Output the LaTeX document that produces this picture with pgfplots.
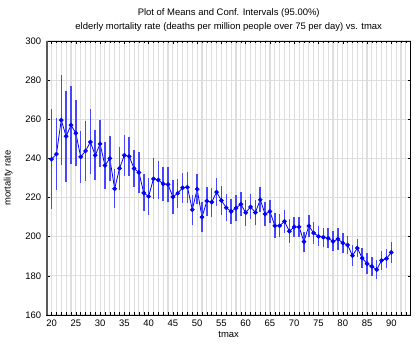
\documentclass[border=0pt]{standalone}
\usepackage{fontspec}
\setmainfont{Liberation Sans}
\usepackage{pgfplots}
\pgfplotsset{compat=1.18}
\usepackage{pgfplotstable}
\pgfplotstableread{
x y err
20 239.6 25.5
21 242.2 18.5
22 259.6 23.0
23 251.3 23.4
24 257.0 20.0
25 252.9 17.0
26 240.8 13.4
27 243.8 15.5
28 248.4 16.6
29 241.6 12.7
30 247.4 12.0
31 236.4 12.2
32 240.0 11.7
33 224.5 10.0
34 234.9 11.0
35 241.6 10.6
36 241.0 10.2
37 234.9 9.4
38 232.8 10.3
39 222.4 9.5
40 220.6 9.4
41 229.6 10.5
42 229.0 9.8
43 227.0 8.7
44 226.7 9.0
45 220.3 8.9
46 222.2 7.4
47 225.0 7.7
48 225.3 8.0
49 213.8 7.6
50 224.3 7.6
51 210.0 7.7
52 218.2 7.4
53 217.7 7.4
54 222.8 7.1
55 218.5 7.3
56 214.8 7.0
57 212.9 6.4
58 214.6 6.6
59 216.6 6.1
60 212.3 6.6
61 215.2 6.4
62 212.4 6.4
63 218.9 6.5
64 211.6 6.3
65 212.9 6.0
66 205.6 6.4
67 205.6 6.0
68 207.8 5.8
69 202.8 6.1
70 205.0 5.3
71 205.0 5.2
72 197.5 5.1
73 205.5 5.4
74 201.9 5.5
75 200.2 5.2
76 199.7 5.0
77 199.2 5.0
78 197.6 5.1
79 198.8 5.4
80 196.8 5.0
81 195.8 4.5
82 190.3 5.5
83 194.2 4.8
84 189.1 5.0
85 186.2 5.5
86 184.8 5.0
87 183.2 5.0
88 187.9 5.0
89 188.8 5.0
90 192.0 5.2
}\datatable
\definecolor{gridgray}{RGB}{222,222,222}
\definecolor{barblue}{RGB}{70,70,255}
\begin{document}
\begin{tikzpicture}
\begin{axis}[
  at={(0,0)}, anchor=south west,
  scale only axis, width=364bp, height=274bp,
  xmin=19, xmax=94, ymin=160, ymax=300,
  xtick={20,25,...,90}, minor xtick={19,...,94},
  ytick={160,180,...,300},
  grid=both,
  major grid style={gridgray, line width=1.1bp},
  minor grid style={gridgray, line width=1.1bp},
  tick align=inside,
  major tick length=3bp, minor tick length=2.5bp,
  tick style={black, line width=0.5bp},
  axis line style={black, line width=0.7bp},
  font=\fontsize{9.5}{11}\selectfont,
  tick label style={font=\fontsize{9.5}{11}\selectfont},
  /pgf/number format/assume math mode=true,
  yticklabel style={xshift=-2bp},
  xticklabel style={yshift=-1bp},
  xlabel={tmax}, ylabel={mortality rate},
  xlabel style={yshift=2bp},
  ylabel style={yshift=6bp},
  clip=false,
]
\addplot[blue, line width=0.8bp, mark=*, mark size=1.9bp,
  mark options={fill=blue, draw=blue},
  error bars/.cd, y dir=both, y explicit,
  error mark=none,
  error bar style={barblue, line width=1.5bp}]
  table[x=x, y=y, y error=err] {\datatable};
\draw[black!65, line width=1.6bp] (rel axis cs:0,0) -- (rel axis cs:0,1);
\node[anchor=base, font=\fontsize{9.5}{11}\selectfont] at (rel axis cs:0.5,1) [yshift=11bp] {elderly mortality rate (deaths per million people over 75 per day) vs. tmax};
\node[anchor=base, font=\fontsize{9.5}{11}\selectfont] at (rel axis cs:0.5,1) [yshift=25bp] {Plot of Means and Conf. Intervals (95.00\%)};
\end{axis}
\pgfresetboundingbox
\useasboundingbox (-46.7bp,-36bp) rectangle (371.3bp,315bp);
\end{tikzpicture}
\end{document}
